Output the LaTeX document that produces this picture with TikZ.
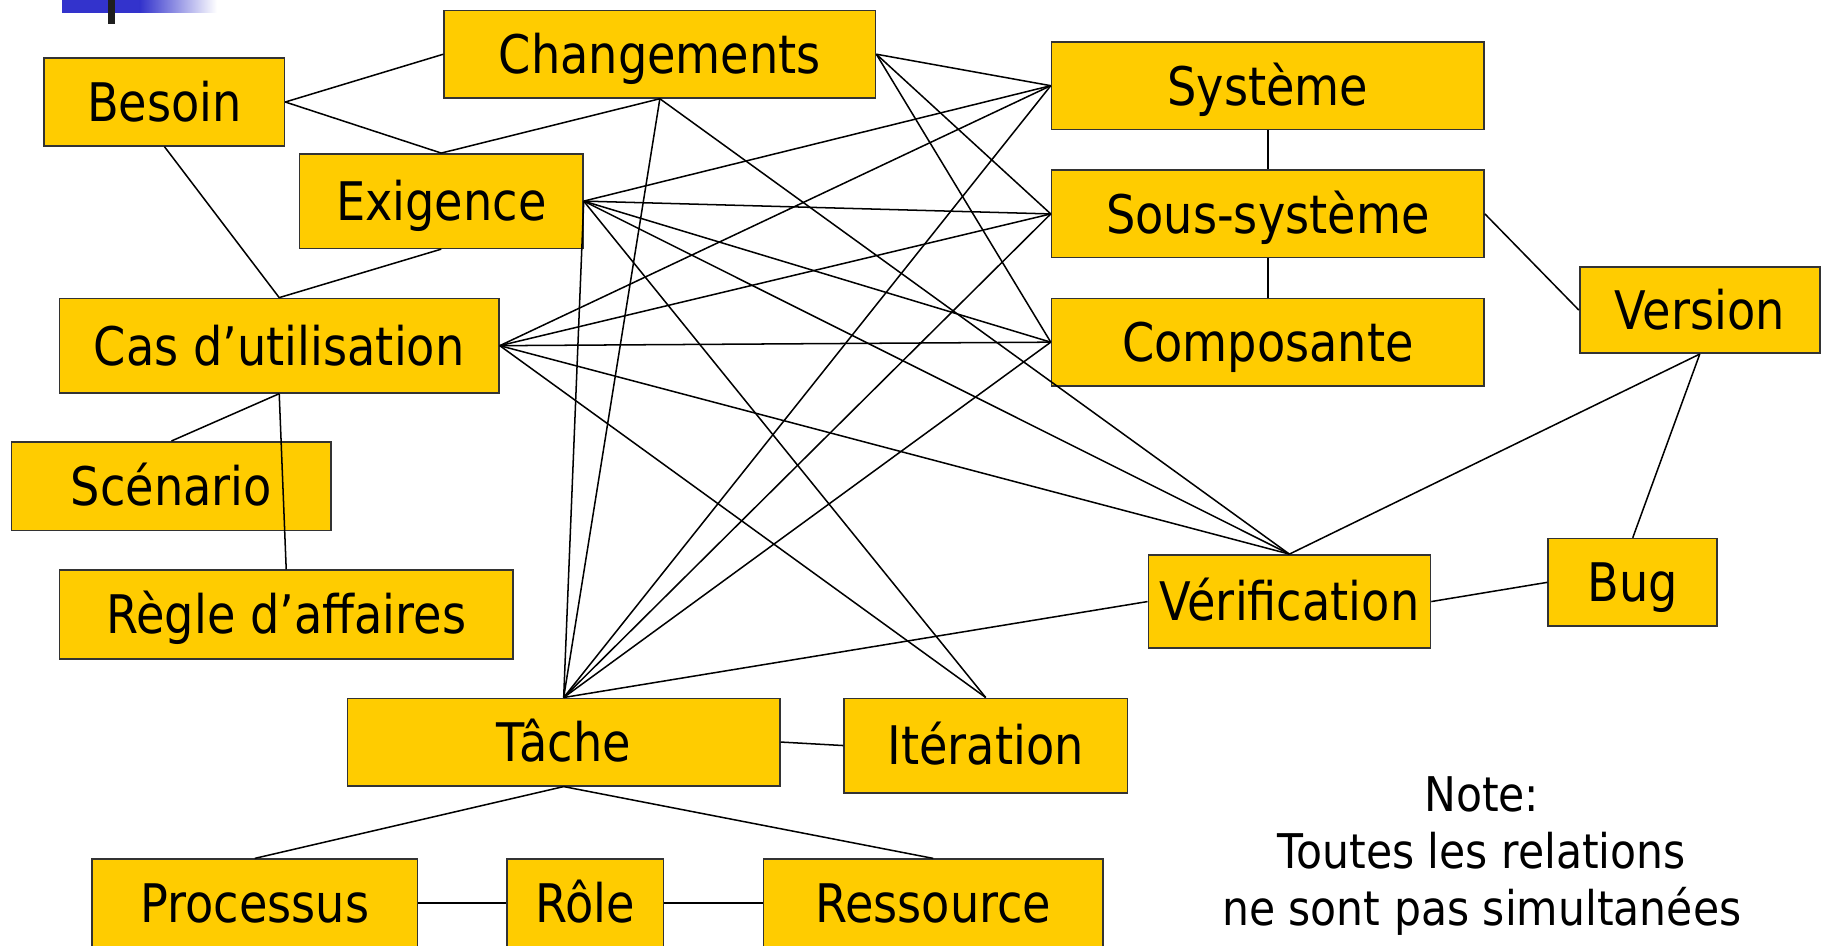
\documentclass[tikz,border=0pt]{standalone}
\usepackage{fontspec}
\setmainfont{DejaVu Sans}[FakeStretch=0.87]
\newfontfamily\notefont{DejaVu Sans}[FakeStretch=0.89]
\definecolor{boxgold}{HTML}{FFCC00}
\definecolor{headerblue}{HTML}{3333CC}
\definecolor{boxedge}{HTML}{333333}
\begin{document}
\begin{tikzpicture}[x=1pt,y=-1pt,
  box/.style={draw=boxedge, line width=1.4pt, fill=boxgold, inner sep=0pt,
    text height=33.2pt, text depth=0pt,
    font=\fontsize{45.6}{54}\selectfont, minimum height=75pt},
  link/.style={line width=1.3pt, draw=black},
  notetext/.style={align=center, inner sep=0pt,
    font=\notefont\fontsize{41}{49}\selectfont}]

\useasboundingbox (0,0) rectangle (1568,811);
\begin{scope}
\clip (0,0) rectangle (1568,811);

% title bar fragment in the upper left corner
\fill[headerblue] (53,0) rectangle (120,11);
\shade[left color=headerblue, right color=white] (120,0) rectangle (186,11);
\fill[black!88] (92.6,0) rectangle (98.6,20.6);

% entities
\node[box, minimum width=206pt] (besoin) at (141,87.5) {Besoin};
\node[box, minimum width=370pt] (chg) at (566,46.5) {Changements};
\node[box, minimum width=371pt] (sys) at (1087.5,73.5) {Système};
\node[box, minimum width=243pt, minimum height=81pt] (exi) at (378.5,172.5) {Exigence};
\node[box, minimum width=371pt] (sous) at (1087.5,183.5) {Sous-système};
\node[box, minimum width=377pt, minimum height=81pt] (cas) at (239.5,296.5) {Cas d’utilisation};
\node[box, minimum width=371pt] (comp) at (1087.5,293.5) {Composante};
\node[box, minimum width=206pt, minimum height=74pt] (vers) at (1458,266) {Version};
\node[box, minimum width=274pt, minimum height=76pt] (scen) at (147,417) {Scénario};
\node[box, minimum width=389pt, minimum height=76pt] (regle) at (245.5,527) {Règle d’affaires};
\node[box, minimum width=242pt, minimum height=80pt] (verif) at (1106,516) {Vérification};
\node[box, minimum width=145pt] (bug) at (1400.5,499.5) {Bug};
\node[box, minimum width=371pt] (tache) at (483.5,636.5) {Tâche};
\node[box, minimum width=243pt, minimum height=81pt] (iter) at (845.5,639.5) {Itération};
\node[box, minimum width=279pt] (proc) at (218.5,774.5) {Processus};
\node[box, minimum width=134pt] (role) at (502,774.5) {Rôle};
\node[box, minimum width=291pt] (ress) at (800.5,774.5) {Ressource};

% relations
\draw[link] (besoin.east) -- (chg.west);
\draw[link] (besoin.east) -- (exi.north);
\draw[link] (besoin.south) -- (cas.north);
\draw[link] (chg.south) -- (exi.north);
\draw[link] (exi.south) -- (cas.north);

\draw[link] (chg.east) -- (sys.west);
\draw[link] (chg.east) -- (sous.west);
\draw[link] (chg.east) -- (comp.west);
\draw[link] (chg.south) -- (verif.north);
\draw[link] (chg.south) -- (tache.north);

\draw[link] (exi.east) -- (sys.west);
\draw[link] (exi.east) -- (sous.west);
\draw[link] (exi.east) -- (comp.west);
\draw[link] (exi.east) -- (verif.north);
\draw[link] (exi.east) -- (iter.north);
\draw[link] (exi.east) -- (tache.north);

\draw[link] (cas.east) -- (sys.west);
\draw[link] (cas.east) -- (sous.west);
\draw[link] (cas.east) -- (comp.west);
\draw[link] (cas.east) -- (verif.north);
\draw[link] (cas.east) -- (iter.north);
\draw[link] (cas.south) -- (scen.north);
\draw[link] (cas.south) -- (regle.north);

\draw[link] (tache.north) -- (sys.west);
\draw[link] (tache.north) -- (sous.west);
\draw[link] (tache.north) -- (comp.west);
\draw[link] (tache.north) -- (verif.west);
\draw[link] (tache.east) -- (iter.west);
\draw[link] (tache.south) -- (proc.north);
\draw[link] (tache.south) -- (ress.north);
\draw[link] (proc.east) -- (role.west);
\draw[link] (role.east) -- (ress.west);

\draw[link] (sys.south) -- (sous.north);
\draw[link] (sous.south) -- (comp.north);
\draw[link] (sous.east) -- (vers.west);
\draw[link] (vers.south) -- (verif.north);
\draw[link] (vers.south) -- (bug.north);
\draw[link] (verif.east) -- (bug.west);

% side note (base anchor sits on the last line)
\node[notetext, anchor=base] (note) at (1271,794)
  {Note:\\Toutes les relations\\ne sont pas simultanées};
\end{scope}
\end{tikzpicture}
\end{document}
